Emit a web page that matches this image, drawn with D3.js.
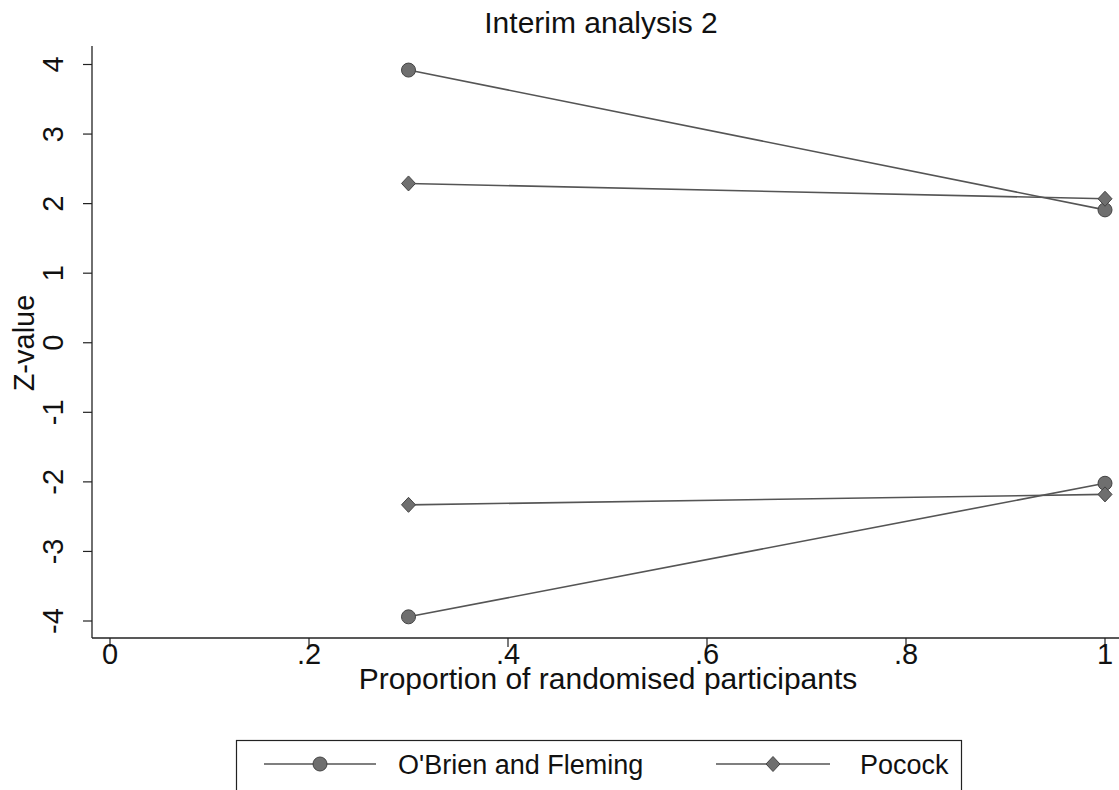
<!DOCTYPE html>
<html>
<head>
<meta charset="utf-8">
<script src="https://cdn.jsdelivr.net/npm/d3@7"></script>
<style>
  body { margin: 0; background: #fff; }
  text { font-family: "Liberation Sans", Arial, sans-serif; fill: #111; }
</style>
</head>
<body>
<div id="chart"></div>
<script>
// proportion of randomised participants at each look
const looks = [0.3, 1];
// boundaries: upper and lower, per method
const obfUpper = [3.92, 1.91];
const obfLower = [-3.94, -2.02];
const pocUpper = [2.29, 2.07];
const pocLower = [-2.33, -2.18];
const xTicks = [0, 0.2, 0.4, 0.6, 0.8, 1];
const xTickLabels = ["0", ".2", ".4", ".6", ".8", "1"];
const yTicks = [4, 3, 2, 1, 0, -1, -2, -3, -4];
const legendNames = ["O'Brien and Fleming", "Pocock"];

const W = 1119, H = 790;
const lineCol = "#555", markFill = "#6f6f6f", markStroke = "#444";

const svg = d3.select("#chart").append("svg")
  .attr("width", W).attr("height", H);

const x = d3.scaleLinear().domain([0, 1]).range([110, 1105]);
const y = d3.scaleLinear().domain([-4, 4]).range([621, 64.5]);

const axisX = 92, axisY = 638;

// title
svg.append("text").attr("x", 601).attr("y", 33)
  .attr("text-anchor", "middle").style("font-size", "30px")
  .text("Interim analysis 2");

// y axis
svg.append("line").attr("x1", axisX).attr("x2", axisX)
  .attr("y1", 46).attr("y2", axisY).attr("stroke", "#222").attr("stroke-width", 1.3);
const yg = svg.append("g");
yg.selectAll("line").data(yTicks).enter().append("line")
  .attr("x1", axisX - 9).attr("x2", axisX)
  .attr("y1", d => y(d)).attr("y2", d => y(d))
  .attr("stroke", "#222").attr("stroke-width", 1.2);
yg.selectAll("text").data(yTicks).enter().append("text")
  .attr("transform", d => `translate(63,${y(d)}) rotate(-90)`)
  .attr("text-anchor", "middle").style("font-size", "29px")
  .text(d => d);
svg.append("text").attr("transform", `translate(34,343) rotate(-90)`)
  .attr("text-anchor", "middle").style("font-size", "29px").text("Z-value");

// x axis
svg.append("line").attr("x1", axisX).attr("x2", W)
  .attr("y1", axisY).attr("y2", axisY).attr("stroke", "#222").attr("stroke-width", 1.3);
const xg = svg.append("g");
xg.selectAll("line").data(xTicks).enter().append("line")
  .attr("x1", d => x(d)).attr("x2", d => x(d))
  .attr("y1", axisY).attr("y2", axisY + 9)
  .attr("stroke", "#222").attr("stroke-width", 1.2);
xg.selectAll("text").data(xTicks).enter().append("text")
  .attr("x", d => x(d)).attr("y", 664)
  .attr("text-anchor", "middle").style("font-size", "29px")
  .text((d, i) => xTickLabels[i]);
svg.append("text").attr("x", 608).attr("y", 689)
  .attr("text-anchor", "middle").style("font-size", "30px")
  .text("Proportion of randomised participants");

// series
const line = d3.line().x(d => x(d[0])).y(d => y(d[1]));
const series = [
  { vals: obfUpper, shape: "circle" },
  { vals: obfLower, shape: "circle" },
  { vals: pocUpper, shape: "diamond" },
  { vals: pocLower, shape: "diamond" }
];

const drawMark = (g, shape, cx, cy) => {
  if (shape === "circle") {
    g.append("circle").attr("cx", cx).attr("cy", cy).attr("r", 7)
      .attr("fill", markFill).attr("stroke", markStroke).attr("stroke-width", 1);
  } else {
    g.append("path")
      .attr("d", `M${cx},${cy - 7.5}L${cx + 7},${cy}L${cx},${cy + 7.5}L${cx - 7},${cy}Z`)
      .attr("fill", markFill).attr("stroke", markStroke).attr("stroke-width", 1);
  }
};

const plot = svg.append("g");
series.forEach(s => {
  const pts = looks.map((l, i) => [l, s.vals[i]]);
  plot.append("path").attr("d", line(pts))
    .attr("fill", "none").attr("stroke", lineCol).attr("stroke-width", 1.6);
});
series.forEach(s => {
  looks.forEach((l, i) => drawMark(plot, s.shape, x(l), y(s.vals[i])));
});

// legend
const leg = svg.append("g");
leg.append("rect").attr("x", 236.5).attr("y", 740.5).attr("width", 725).attr("height", 70)
  .attr("fill", "none").attr("stroke", "#222").attr("stroke-width", 1.2);
const legItems = [
  { name: legendNames[0], shape: "circle", x0: 264, x1: 376, tx: 398 },
  { name: legendNames[1], shape: "diamond", x0: 716, x1: 830, tx: 860 }
];
legItems.forEach(it => {
  leg.append("line").attr("x1", it.x0).attr("x2", it.x1)
    .attr("y1", 764).attr("y2", 764).attr("stroke", lineCol).attr("stroke-width", 1.6);
  drawMark(leg, it.shape, (it.x0 + it.x1) / 2, 764);
  leg.append("text").attr("x", it.tx).attr("y", 774)
    .style("font-size", "27px").text(it.name);
});
</script>
</body>
</html>
